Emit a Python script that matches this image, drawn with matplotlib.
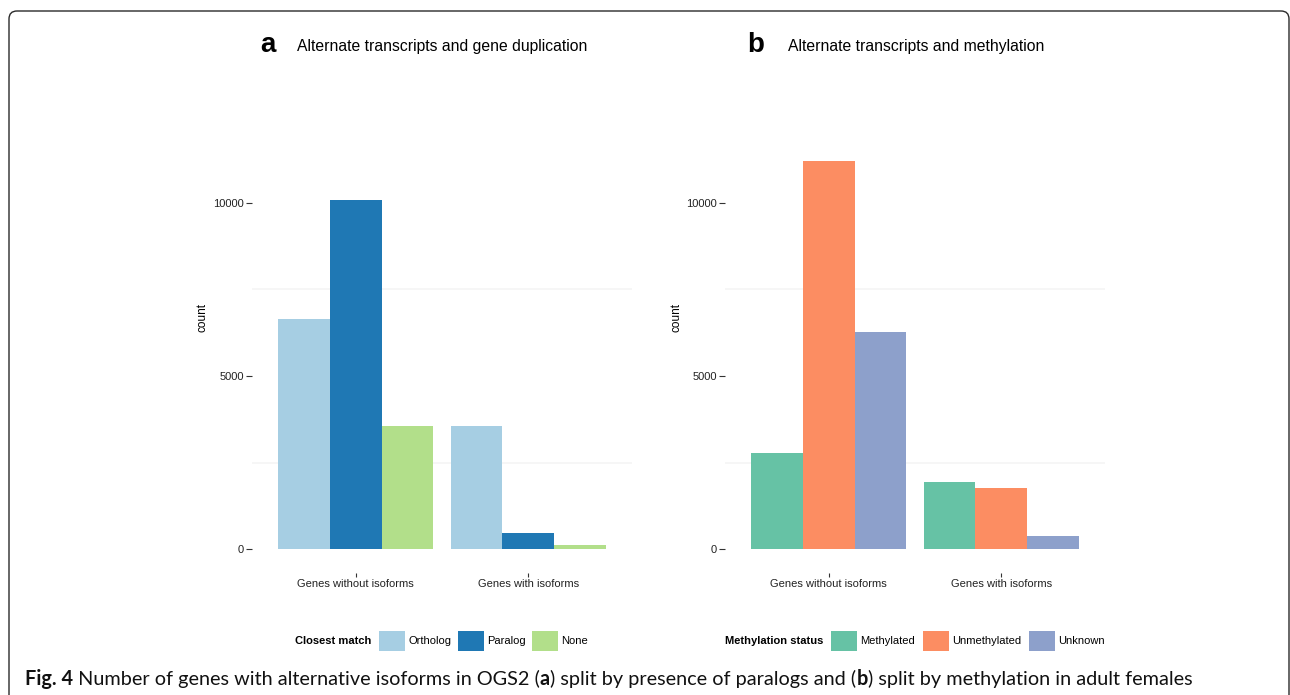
import numpy as np
import matplotlib
matplotlib.use('Agg')
import matplotlib.pyplot as plt
from matplotlib.patches import Patch, FancyBboxPatch
from matplotlib.transforms import IdentityTransform

# data
categories = ['Genes without isoforms', 'Genes with isoforms']

match_labels = ['Ortholog', 'Paralog', 'None']
ortholog = [6640, 3560]
paralog = [10070, 475]
no_match = [3560, 130]
match_colors = ['#A6CEE3', '#1F78B4', '#B2DF8A']

methyl_labels = ['Methylated', 'Unmethylated', 'Unknown']
methylated = [2780, 1945]
unmethylated = [11195, 1770]
unknown = [6270, 390]
methyl_colors = ['#66C2A5', '#FC8D62', '#8DA0CB']

y_ticks = [0, 5000, 10000]

W, H = 1290, 695
plt.rcParams['font.family'] = ['Liberation Sans', 'DejaVu Sans']

fig = plt.figure(figsize=(W / 100, H / 100), dpi=100)


def px_axes(left, top, right, bottom):
    # pixel box -> figure fraction
    return [left / W, 1 - bottom / H, (right - left) / W, (bottom - top) / H]


def draw_panel(ax, series, colors):
    x = np.arange(1, len(categories) + 1)
    width = 0.3
    offsets = [-width, 0, width]
    for vals, off, col in zip(series, offsets, colors):
        ax.bar(x + off, vals, width=width, color=col, linewidth=0, zorder=2)
    ax.set_xlim(0.4, 2.6)
    ax.set_ylim(-680, 11756)
    ax.set_xticks(x)
    ax.set_xticklabels(categories)
    ax.set_yticks(y_ticks)
    ax.set_yticklabels([str(v) for v in y_ticks])
    ax.set_yticks([2500, 7500], minor=True)
    ax.grid(which='minor', axis='y', color='#F5F5F5', linewidth=1.2, zorder=0)
    ax.set_axisbelow(True)
    for s in ax.spines.values():
        s.set_visible(False)
    ax.tick_params(axis='y', which='major', length=4, width=0.8, color='#333333',
                   labelsize=8, pad=2, labelcolor='#222222')
    ax.tick_params(axis='x', which='major', length=3, width=0.8, color='#333333',
                   labelsize=8, pad=1.5, labelcolor='#222222')
    ax.tick_params(which='minor', length=0)


ax_a = fig.add_axes(px_axes(252, 141.6, 632, 573))
draw_panel(ax_a, [ortholog, paralog, no_match], match_colors)
ax_b = fig.add_axes(px_axes(725, 141.6, 1105, 573))
draw_panel(ax_b, [methylated, unmethylated, unknown], methyl_colors)

# y labels
fig.text(203 / W, 1 - 318 / H, 'count', rotation=90, ha='center', va='center', fontsize=8.5)
fig.text(677 / W, 1 - 318 / H, 'count', rotation=90, ha='center', va='center', fontsize=8.5)

# panel titles
fig.text(268 / W, 1 - 45 / H, 'a', fontsize=20, fontweight='bold', ha='center', va='center')
fig.text(297 / W, 1 - 47 / H, 'Alternate transcripts and gene duplication', fontsize=11.3,
         ha='left', va='center')
fig.text(756 / W, 1 - 45 / H, 'b', fontsize=20, fontweight='bold', ha='center', va='center')
fig.text(788 / W, 1 - 47 / H, 'Alternate transcripts and methylation', fontsize=11.3,
         ha='left', va='center')

# legends
def add_legend(title, labels, colors, title_x, key_x, colspace):
    fig.text(title_x / W, 1 - 641 / H, title, fontsize=8, fontweight='bold',
             ha='left', va='center')
    handles = [Patch(facecolor=c, edgecolor='none') for c in colors]
    leg = fig.legend(handles, labels, loc='center left',
                     bbox_to_anchor=(key_x / W, 1 - 641 / H), ncol=len(labels),
                     frameon=False, fontsize=8, handlelength=2.35, handleheight=2.35,
                     handletextpad=0.3, columnspacing=colspace, borderpad=0,
                     borderaxespad=0)
    return leg


add_legend('Closest match', match_labels, match_colors, 295, 379, 0.55)
add_legend('Methylation status', methyl_labels, methyl_colors, 725, 831, 0.68)

# frame with rounded corner
frame = FancyBboxPatch((9, -30), 1280, 684 + 30, boxstyle='round,pad=0,rounding_size=8',
                       transform=IdentityTransform(), facecolor='none',
                       edgecolor='#2a2a2a', linewidth=1.0)
fig.patches.append(frame)

# caption with mixed bold pieces
cap_family = ['Lato', 'DejaVu Sans']
pieces = [('Fig. 4', 'bold'), (' Number of genes with alternative isoforms in OGS2 (', 'normal'),
          ('a', 'bold'), (') split by presence of paralogs and (', 'normal'),
          ('b', 'bold'), (') split by methylation in adult females', 'normal')]
fig.canvas.draw()
renderer = fig.canvas.get_renderer()
size = 10
texts = [fig.text(0, 0, t, fontsize=size, fontweight=w, family=cap_family) for t, w in pieces]
total = sum(t.get_window_extent(renderer).width for t in texts)
for t in texts:
    t.remove()
size = size * 1170 / total
x = 25
for t, w in pieces:
    txt = fig.text(x / W, 1 - 685 / H, t, fontsize=size, fontweight=w, family=cap_family,
                   ha='left', va='baseline', color='#111111')
    x += txt.get_window_extent(renderer).width

fig.savefig('out.png', dpi=100)
